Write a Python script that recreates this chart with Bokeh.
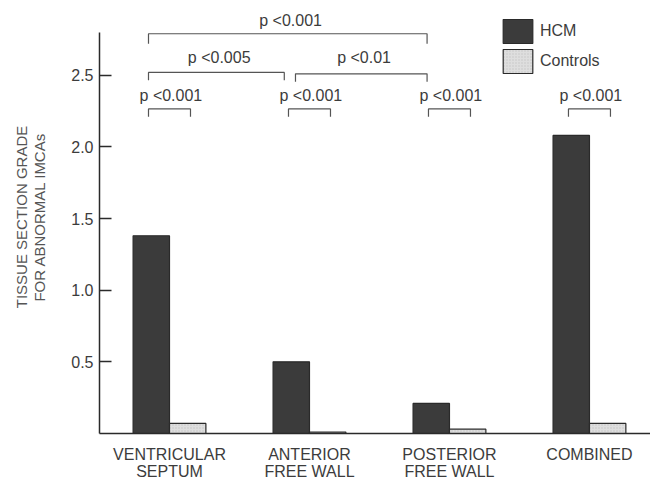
import numpy as np
from bokeh.plotting import figure
from bokeh.models import FixedTicker, ColumnDataSource, Range1d, PrintfTickFormatter
from bokeh.core.properties import value
from bokeh.embed import file_html
from bokeh.resources import INLINE

# ---------------- data ----------------
categories = ["VENTRICULAR\nSEPTUM", "ANTERIOR\nFREE WALL", "POSTERIOR\nFREE WALL", "COMBINED"]
hcm = [1.38, 0.50, 0.21, 2.08]
controls = [0.07, 0.01, 0.03, 0.07]
y_ticks = [0.5, 1.0, 1.5, 2.0, 2.5]
series_names = ["HCM", "Controls"]
# within-region comparisons (HCM vs controls)
small_tests = ["p <0.001", "p <0.001", "p <0.001", "p <0.001"]
# between-region comparisons (group i, group j, label)
pair_tests = [(0, 1, "p <0.005"), (1, 2, "p <0.01"), (0, 2, "p <0.001")]

# ---------------- style / layout ----------------
FONT = "Liberation Sans"
TXT = "#3c3c3c"
BAR_W = 0.26
OFF = 0.13
HCM_FILL = "#3b3b3b"
CTRL_FILL = "#dedede"
EDGE = "#2a2a2a"

p = figure(width=650, height=482, output_backend="svg", toolbar_location=None,
           x_range=Range1d(-0.5, 3.436), y_range=Range1d(0, 3.022),
           min_border_left=99, min_border_right=0, min_border_top=0, min_border_bottom=48)
p.outline_line_color = None
p.xgrid.visible = False
p.ygrid.visible = False
p.background_fill_color = "white"

idx = np.arange(len(categories))
src = ColumnDataSource(dict(xh=idx - OFF, xc=idx + OFF, hcm=hcm, ctrl=controls))
p.vbar(x="xh", top="hcm", width=BAR_W, source=src, fill_color=HCM_FILL,
       line_color=EDGE, line_width=1.2, legend_label=series_names[0])
p.vbar(x="xc", top="ctrl", width=BAR_W, source=src, fill_color=CTRL_FILL,
       line_color=EDGE, line_width=1.2, hatch_pattern="dot", hatch_color="#b0b0b0",
       hatch_scale=3, hatch_alpha=0.6, legend_label=series_names[1])

# ---- brackets ----
bx, by, tx, ty, tt = [], [], [], [], []
for i, lab in enumerate(small_tests):
    x0, x1 = i - 0.15, i + 0.15
    bx.append([x0, x0, x1, x1]); by.append([2.21, 2.265, 2.265, 2.21])
    tx.append((x0 + x1) / 2 + 0.01); ty.append(2.36); tt.append(lab)
pair_geom = {(0, 1): (-0.15, -0.18, 2.465, 2.52, 2.625),
             (1, 2): (-0.10, -0.16, 2.455, 2.51, 2.625),
             (0, 2): (-0.15, -0.16, 2.72, 2.79, 2.88)}
for i, j, lab in pair_tests:
    o0, o1, yd, yt, ytx = pair_geom[(i, j)]
    x0, x1 = i + o0, j + o1
    bx.append([x0, x0, x1, x1]); by.append([yd, yt, yt, yd])
    tx.append((x0 + x1) / 2 + 0.02); ty.append(ytx); tt.append(lab)

p.multi_line(xs=bx, ys=by, line_color="#555555", line_width=1.2)
p.text(x=tx, y=ty, text=tt, text_align="center", text_baseline="middle",
       text_font=value(FONT), text_font_size="16px", text_color=TXT)

# ---- axes ----
ya = p.yaxis[0]
ya.ticker = FixedTicker(ticks=y_ticks)
ya.formatter = PrintfTickFormatter(format="%.1f")
ya.bounds = (0, 2.8)
ya.major_tick_in = 12
ya.major_tick_out = 0
ya.minor_tick_in = 0
ya.minor_tick_out = 0
ya.major_label_standoff = 6
ya.axis_line_color = EDGE
ya.axis_line_width = 1.5
ya.major_tick_line_color = EDGE
ya.major_tick_line_width = 1.5
ya.major_label_text_font = FONT
ya.major_label_text_font_size = "16px"
ya.major_label_text_color = TXT
ya.axis_label = "TISSUE SECTION GRADE\nFOR ABNORMAL IMCAs"
ya.axis_label_text_font = FONT
ya.axis_label_text_font_size = "15px"
ya.axis_label_text_line_height = 1.1
ya.axis_label_text_font_style = "normal"
ya.axis_label_text_color = "#555555"
ya.axis_label_standoff = 20

xa = p.xaxis[0]
xa.ticker = FixedTicker(ticks=list(idx))
xa.major_label_overrides = {int(i): c for i, c in zip(idx, categories)}
xa.major_tick_in = 0
xa.major_tick_out = 0
xa.minor_tick_in = 0
xa.minor_tick_out = 0
xa.major_label_standoff = 12
xa.major_label_text_line_height = 1.0
xa.axis_line_color = EDGE
xa.axis_line_width = 1.5
xa.major_label_text_font = FONT
xa.major_label_text_font_size = "16px"
xa.major_label_text_color = TXT

# ---- legend ----
lg = p.legend[0]
lg.location = (400, 357)
lg.border_line_color = None
lg.background_fill_alpha = 0
lg.padding = 0
lg.margin = 0
lg.spacing = 0
lg.glyph_width = 37
lg.glyph_height = 30
lg.label_standoff = 4
lg.label_text_font = FONT
lg.label_text_font_size = "16px"
lg.label_text_color = TXT

open("out.html", "w").write(file_html(p, INLINE))
